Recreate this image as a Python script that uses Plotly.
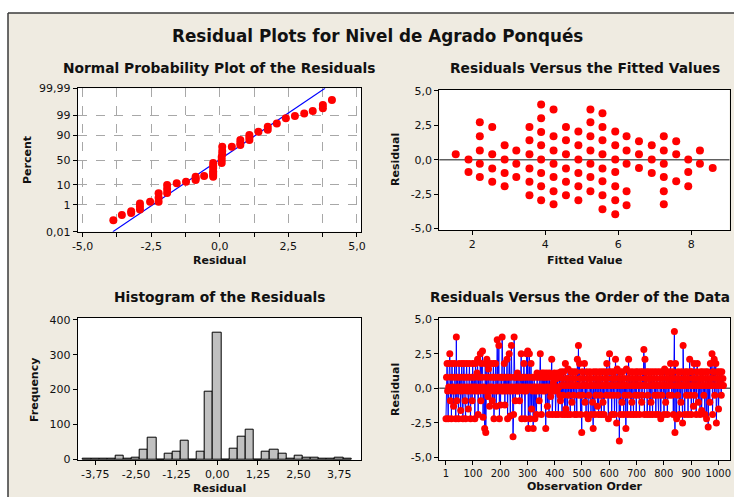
import plotly.graph_objects as go
from statistics import NormalDist

# ---------------- data ----------------
# Normal probability plot (residual, percent)
npp_resid = [-3.88, -3.57, -3.23, -3.23, -2.91, -2.91, -2.91, -2.54,
             -2.23, -2.23, -2.23, -1.92, -1.92, -1.92, -1.57, -1.23,
             -0.88, -0.88, -0.88, -0.57,
             -0.24, -0.24, -0.24, -0.24, -0.24, -0.24, -0.24,
             0.07, 0.07, 0.07, 0.09, 0.09, 0.09,
             0.44, 0.75, 0.75, 0.75, 1.08, 1.08, 1.08, 1.41, 1.75, 1.75,
             2.08, 2.41, 2.74, 3.08, 3.39, 3.76, 3.76, 4.09]
npp_pct = [0.087, 0.22, 0.30, 0.40, 0.52, 0.8, 1.2, 1.54,
           1.54, 2.5, 4.2, 4.4, 6.7, 9.7, 11.3, 13.1,
           14.9, 17.0, 19.2, 20.3,
           19.2, 22.0, 25.0, 28.0, 34.0, 38.0, 43.6,
           43.6, 50.0, 56.0, 62.0, 68.0, 75.5,
           75.5, 78.2, 81.0, 85.1, 85.1, 88.0, 90.3, 92.9, 94.1, 95.8,
           97.1, 98.46, 98.87, 99.22, 99.45, 99.63, 99.78, 99.906]
npp_fit_mean = -0.03
npp_fit_sd = 1.04
npp_pct_ticks = [0.01, 1, 10, 50, 90, 99, 99.99]
npp_pct_labels = ["0,01", "1", "10", "50", "90", "99", "99,99"]
npp_x_ticks = [-5, -3.75, -2.5, -1.25, 0, 1.25, 2.5, 3.75, 5]
npp_x_labels = ["-5,0", "", "-2,5", "", "0,0", "", "2,5", "", "5,0"]

# Residuals vs fitted values
fit_x = [1.55, 1.9, 1.9,
         2.21, 2.21, 2.21, 2.21, 2.21,
         2.55, 2.55, 2.55, 2.55,
         2.89, 2.89, 2.89, 2.89,
         3.21, 3.21, 3.21,
         3.57, 3.57, 3.57, 3.57, 3.57, 3.57,
         3.89, 3.89, 3.89, 3.89, 3.89, 3.89, 3.89, 3.89,
         4.23, 4.23, 4.23, 4.23, 4.23, 4.23, 4.23,
         4.57, 4.57, 4.57, 4.57, 4.57, 4.57,
         4.91, 4.91, 4.91, 4.91, 4.91, 4.91,
         5.24, 5.24, 5.24, 5.24, 5.24, 5.24, 5.24,
         5.57, 5.57, 5.57, 5.57, 5.57, 5.57, 5.57, 5.57,
         5.92, 5.92, 5.92, 5.92, 5.92, 5.92, 5.92,
         6.23, 6.23, 6.23, 6.23, 6.23,
         6.57, 6.57, 6.57,
         6.92, 6.92, 6.92,
         7.25, 7.25, 7.25, 7.25, 7.25, 7.25,
         7.59, 7.59, 7.59,
         7.92, 7.92, 7.92,
         8.24, 8.24,
         8.59]
fit_res = [0.39, 0.02, -0.89,
           2.72, 1.69, 0.67, -0.29, -1.25,
           2.36, 0.39, -0.65, -1.61,
           1.04, 0.02, -0.96, -1.93,
           0.67, -0.29, -1.25,
           2.36, 1.40, 0.39, -0.65, -1.61, -2.58,
           4.00, 3.01, 2.00, 1.04, 0.02, -0.96, -1.93, -2.94,
           3.64, 1.69, 0.67, -0.29, -1.25, -2.29, -3.23,
           2.36, 1.40, 0.39, -0.65, -1.61, -2.58,
           2.05, 1.04, 0.02, -0.96, -1.93, -2.94,
           3.64, 2.72, 1.69, 0.67, -0.29, -1.25, -2.29,
           3.37, 2.36, 1.40, 0.39, -0.65, -1.57, -2.58, -3.59,
           2.05, 1.04, 0.02, -0.89, -1.93, -2.94, -3.95,
           1.69, 0.67, -0.29, -2.29, -3.30,
           1.33, 0.39, -0.60,
           1.04, 0.02, -0.96,
           1.69, 0.67, -0.29, -1.25, -2.29, -3.23,
           1.33, 0.39, -1.57,
           0.02, -0.89, -1.93,
           0.67, -0.29,
           -0.60]

# Histogram of residuals (bin centres, counts)
hist_bins = [-4.0, -3.75, -3.5, -3.25, -3.0, -2.75, -2.5, -2.25, -2.0, -1.75,
             -1.5, -1.25, -1.0, -0.75, -0.5, -0.25, 0.0, 0.25, 0.5, 0.75,
             1.0, 1.25, 1.5, 1.75, 2.0, 2.25, 2.5, 2.75, 3.0, 3.25,
             3.5, 3.75, 4.0]
hist_counts = [1, 1, 1, 3, 10, 1, 4, 28, 61, 0,
               16, 23, 53, 0, 23, 194, 364, 0, 31, 64,
               86, 0, 23, 27, 16, 1, 10, 6, 6, 1,
               1, 6, 1]
hist_x_ticks = [-3.75, -2.5, -1.25, 0, 1.25, 2.5, 3.75]
hist_x_labels = ["-3,75", "-2,50", "-1,25", "0,00", "1,25", "2,50", "3,75"]
hist_y_ticks = [0, 100, 200, 300, 400]

# Residuals vs observation order (every 2nd observation)
order_res = [
    -2.2, 0.8, 1.8, -0.2, -2.2, 0.1, 1.8, 2.5, -0.9, 0.8, -2.2, 1.8, -0.2, 0.1, -1.3, 0.8, 1.8, -0.2, -2.2, 3.7, -0.9, 0.8, 0.1, -2.2, 1.8, -0.2, 0.8, -1.6, 0.1, 1.8,
    -0.2, -2.2, 0.8, 1.8, 0.1, -0.9, -2.2, 0.8, 1.8, -0.2, 0.1, -1.5, 0.8, 1.8, -0.2, -2.2, 0.1, 0.8, -0.9, 1.8, -0.2, 0.1, 0.8, -2.2, 1.8, 0.1, -0.2, 1.1, 2.1, -1.9,
    0.8, -0.2, 0.1, 2.5, -0.9, 1.8, 0.8, 2.7, -2.1, 0.1, -0.2, -2.9, 1.8, -3.2, 0.8, 2.1, -0.2, -0.6, 1.4, 0.1, -1.3, 0.8, 1.8, -0.2, 0.1, -0.9, 0.8, 1.8, -2.2, -0.2,
    0.8, 1.8, -1.3, 0.1, 3.5, -0.2, 0.8, 3.1, -2.2, 0.1, -1.2, 0.8, -0.2, 3.7, 0.8, 0.1, -0.2, 1.8, -1.2, 0.8, 0.1, -0.2, 2.1, -2.2, 0.8, 0.1, 2.5, -0.2, -2.0, 0.8,
    3.1, 0.1, -0.2, -3.5, -1.9, 3.7, 0.8, -0.9, 0.1, 0.8, -0.2, 1.1, 0.1, -0.2, 0.8, -0.9, 0.1, 0.8, 2.5, -2.2, 0.1, 0.8, -0.2, 1.8, 0.1, -2.2, 0.8, -0.2, 2.5, 0.1,
    2.7, -2.9, 0.8, 2.5, -2.2, 0.1, 1.8, -1.5, 0.8, -0.2, -2.9, 0.1, 0.8, -2.2, -0.2, 0.1, -1.9, 1.1, 0.8, -0.2, 0.1, -0.9, 0.8, 2.5, 0.1, -1.9, 1.1, -0.2, 0.8, 0.1,
    1.1, -0.2, 0.8, -2.9, 0.1, 1.1, -1.3, 0.8, 0.1, -1.9, 1.1, -0.2, -0.6, 0.8, 2.1, -1.9, 0.1, 0.4, -0.2, 1.1, 0.8, -1.9, 0.1, 0.7, -0.2, 1.1, -1.9, 0.1, 0.8, -0.5,
    -0.9, 1.2, 0.2, -1.9, 0.7, -0.5, 1.2, 0.2, -1.9, 1.8, -1.5, 0.7, 0.2, -1.9, 1.4, -0.5, 0.7, 0.2, -1.9, 1.2, 0.2, -1.0, 0.7, 1.2, -0.5, 0.2, -1.9, 0.7, 1.2, 0.2,
    -1.9, 2.1, 0.2, 3.1, -0.5, 1.8, 0.7, -1.9, 0.2, -3.2, 1.2, -0.5, 0.7, 0.2, 1.8, -1.0, 0.2, -1.9, 1.2, 0.7, 0.2, -2.2, -0.5, 0.7, 1.2, 0.2, -1.9, 0.7, 0.2, -1.0,
    -2.9, 1.2, 0.2, -1.9, 0.7, -0.5, 1.2, 0.2, -1.3, 0.7, -1.9, 0.2, 1.2, -0.5, 0.7, -1.9, 0.2, 1.2, -1.0, 0.2, -1.9, 0.7, 1.2, 0.2, -0.5, 1.8, 0.7, 0.2, -2.2, 1.2,
    2.5, -0.5, 0.2, 1.2, -1.9, 0.7, 0.2, -0.5, 1.2, -1.9, 0.7, 2.1, 0.2, -2.5, 1.4, -0.5, 0.2, 0.7, -3.8, 1.2, -1.9, 0.2, 0.7, -1.0, 1.2, 0.2, -1.9, 0.7, -0.5, 0.2,
    -2.9, 1.4, 0.2, -1.9, 0.7, 2.1, -0.5, 1.2, 0.2, -1.9, 0.7, -1.0, 1.2, 0.2, -1.9, 0.7, 0.2, -0.5, 1.2, -1.9, 0.7, 0.2, 1.2, -0.5, 0.2, -1.9, 0.7, 1.2, 0.2, -1.0,
    -0.5, 1.2, 0.2, 2.8, -1.9, 2.1, 0.7, 0.2, 1.2, -1.9, -0.5, 0.7, 1.2, 0.2, -1.9, 0.7, -1.0, 1.2, 0.2, -1.9, 0.7, 0.2, 1.2, -0.5, 0.2, -1.9, 0.7, 1.2, 0.2, -0.5,
    -1.9, 0.2, 1.2, 0.7, -2.2, 0.2, -0.5, 1.2, 0.7, 0.2, -1.9, 1.4, 0.2, -1.0, 0.7, 1.2, -1.9, 0.2, 0.7, -0.5, 1.2, 0.2, 1.8, 0.7, -0.5, 0.2, 1.2, -1.9, 0.7, 4.1,
    -3.2, 1.8, 0.2, -2.2, 0.7, -0.5, 1.2, 0.2, -1.9, 0.7, 0.2, -1.0, 1.2, 0.2, -2.5, 3.1, 0.7, 0.2, -1.9, 1.2, 0.7, -0.5, 0.2, 1.2, -1.9, 0.7, 0.2, 2.1, -0.5, 1.2,
    -1.9, 1.2, 0.2, 0.7, -1.3, 1.8, -0.5, 0.2, 0.7, -1.9, 1.2, 1.8, 0.2, -1.0, 0.7, 0.2, -1.9, 1.2, 0.7, -1.6, 0.2, 1.2, 0.7, -0.5, 0.2, -1.9, 1.2, 0.7, -2.2, 0.2,
    1.2, -2.8, 0.7, 0.2, -1.0, 1.8, 0.2, 0.7, 2.5, -1.9, 1.2, 0.2, 2.1, -0.5, 0.7, 1.8, -2.5, 0.2, 1.2, 0.7, -1.5, 0.2, 1.2, 0.7, 0.2, -0.5, 1.2, 0.2, 0.7, 0.2,
]
order_step = 2
order_x_ticks = [1, 100, 200, 300, 400, 500, 600, 700, 800, 900, 1000]
resid_y_ticks = [-5, -2.5, 0, 2.5, 5]
resid_y_labels = ["-5,0", "-2,5", "0,0", "2,5", "5,0"]
fit_x_ticks = [2, 4, 6, 8]

# ---------------- figure ----------------
W, H = 734, 497
FONT = "DejaVu Sans"
BEIGE = "#EFEBE1"
RED = "#FF0000"
BLUE = "#0000FF"


def fx(px):
    return px / W


def fy(py):
    return 1 - py / H


nd = NormalDist()
zlim = -nd.inv_cdf(0.0001)
npp_z = [nd.inv_cdf(p / 100) for p in npp_pct]
npp_tick_z = [nd.inv_cdf(p / 100) for p in npp_pct_ticks]
line_z = [-zlim, zlim]
line_x = [npp_fit_mean + npp_fit_sd * z for z in line_z]
order_x = [1 + order_step * i for i in range(len(order_res))]

fig = go.Figure()
fig.add_trace(go.Scatter(x=line_x, y=line_z, mode="lines",
                         line=dict(color=BLUE, width=1.2), xaxis="x", yaxis="y"))
fig.add_trace(go.Scatter(x=npp_resid, y=npp_z, mode="markers",
                         marker=dict(color=RED, size=8), xaxis="x", yaxis="y"))
fig.add_trace(go.Scatter(x=fit_x, y=fit_res, mode="markers",
                         marker=dict(color=RED, size=8), xaxis="x2", yaxis="y2"))
fig.add_trace(go.Bar(x=hist_bins, y=hist_counts, width=0.25,
                     marker=dict(color="#C0C0C0", line=dict(color="black", width=1)),
                     xaxis="x3", yaxis="y3"))
fig.add_trace(go.Scatter(x=order_x, y=order_res, mode="lines+markers",
                         line=dict(color=BLUE, width=1),
                         marker=dict(color=RED, size=7), xaxis="x4", yaxis="y4"))

TICKFONT = dict(family=FONT, size=11, color="#111111")
common = dict(showline=True, mirror=True, linecolor="black", linewidth=1,
              ticks="outside", ticklen=4, tickcolor="black",
              tickfont=TICKFONT,
              zeroline=False, showgrid=False, automargin=False, fixedrange=True)

fig.update_layout(
    width=W, height=H, margin=dict(l=0, r=0, t=0, b=0),
    paper_bgcolor=BEIGE, plot_bgcolor="white", showlegend=False, bargap=0,
    xaxis=dict(common, domain=[fx(77.7), fx(361)], range=[-5.18, 5.15],
               tickmode="array", tickvals=npp_x_ticks, ticktext=npp_x_labels,
               showgrid=True, gridcolor="#A8A8A8", griddash="dash", anchor="y"),
    yaxis=dict(common, domain=[fy(231.7), fy(88.3)], range=[-zlim, zlim],
               tickmode="array", tickvals=npp_tick_z, ticktext=npp_pct_labels,
               showgrid=True, gridcolor="#A8A8A8", griddash="dash", anchor="x"),
    xaxis2=dict(common, domain=[fx(439.3), fx(729.5)], range=[1.1, 9.05],
                tickmode="array", tickvals=fit_x_ticks,
                ticktext=[str(v) for v in fit_x_ticks], anchor="y2"),
    yaxis2=dict(common, domain=[fy(230), fy(90)], range=[-5.1, 5.05],
                tickmode="array", tickvals=resid_y_ticks, ticktext=resid_y_labels,
                anchor="x2"),
    xaxis3=dict(common, domain=[fx(77.7), fx(361)], range=[-4.29, 4.42],
                tickmode="array", tickvals=hist_x_ticks, ticktext=hist_x_labels,
                anchor="y3"),
    yaxis3=dict(common, domain=[fy(460), fy(317.7)], range=[-2, 406],
                tickmode="array", tickvals=hist_y_ticks,
                ticktext=[str(v) for v in hist_y_ticks], anchor="x3"),
    xaxis4=dict(common, domain=[fx(439.3), fx(730)], range=[-23.5, 1043],
                tickmode="array", tickvals=order_x_ticks,
                ticktext=[str(v) for v in order_x_ticks],
                tickfont=dict(family=FONT, size=10, color="#111111"), anchor="y4"),
    yaxis4=dict(common, domain=[fy(460), fy(317.7)], range=[-5.18, 5.1],
                tickmode="array", tickvals=resid_y_ticks, ticktext=resid_y_labels,
                anchor="x4"),
)

# zero reference lines
for ax in ("2", "4"):
    fig.add_shape(type="line", xref=f"x{ax} domain", x0=0, x1=1, yref=f"y{ax}",
                  y0=0, y1=0, line=dict(color="#606060", width=1.5), layer="below")

# outer frame (white outside, dark border)
fig.add_shape(type="rect", xref="paper", yref="paper", x0=0, x1=1, y0=fy(13), y1=1,
              fillcolor="white", line=dict(width=0), layer="below")
fig.add_shape(type="rect", xref="paper", yref="paper", x0=0, x1=fx(8), y0=0, y1=1,
              fillcolor="white", line=dict(width=0), layer="below")
fig.add_shape(type="line", xref="paper", yref="paper", x0=fx(8), x1=fx(8),
              y0=0, y1=fy(13), line=dict(color="#3A3A3A", width=1.5))
fig.add_shape(type="line", xref="paper", yref="paper", x0=fx(8), x1=1,
              y0=fy(13), y1=fy(13), line=dict(color="#3A3A3A", width=1.5))


def ann(text, x, y, size, bold=True, angle=0):
    fig.add_annotation(text=f"<b>{text}</b>" if bold else text, xref="paper", yref="paper",
                       x=fx(x), y=fy(y), xanchor="center", yanchor="middle",
                       showarrow=False, textangle=angle,
                       font=dict(family=FONT, size=size, color="#111111"))


ann("Residual Plots for Nivel de Agrado Ponqués", 377, 36, 16.8)
ann("Normal Probability Plot of the Residuals", 219.5, 68, 13.8)
ann("Residuals Versus the Fitted Values", 584.5, 68, 13.8)
ann("Histogram of the Residuals", 219.5, 297, 13.8)
ann("Residuals Versus the Order of the Data", 580, 297, 13.6)
ann("Residual", 219.5, 260, 11)
ann("Percent", 27, 160, 11, angle=-90)
ann("Fitted Value", 584.5, 260, 11)
ann("Residual", 395, 160, 11, angle=-90)
ann("Residual", 219.5, 488, 11)
ann("Frequency", 34, 390, 11, angle=-90)
ann("Observation Order", 584.5, 486, 11)
ann("Residual", 395, 390, 11, angle=-90)

fig.write_html("out.html")
